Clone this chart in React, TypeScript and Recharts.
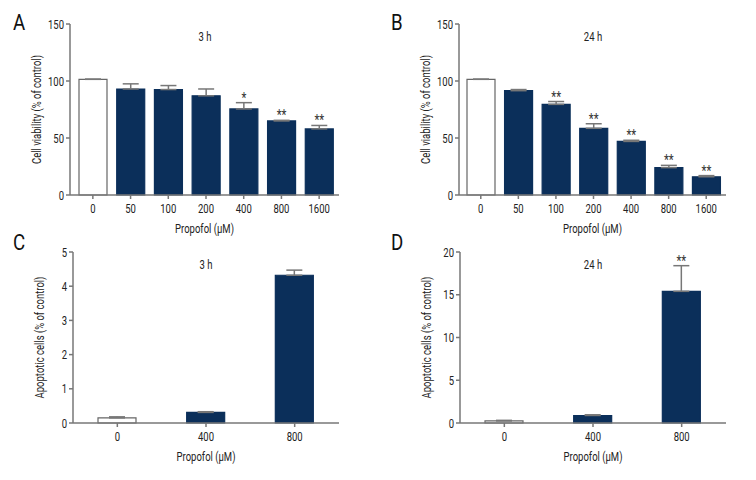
import { BarChart, Bar, XAxis, YAxis, ErrorBar, Cell, LabelList } from "recharts";

// Panel A/B: viability after 3 h / 24 h propofol
const doseViability = ["0", "50", "100", "200", "400", "800", "1600"];
const viability3h = [101.5, 93, 92.5, 87, 75.5, 65, 58];
const viability3hErr = [0, 4.5, 3.5, 6, 5.5, 0.5, 3];
const viability3hSig = ["", "", "", "", "*", "**", "**"];
const viability24h = [101.5, 91.5, 79.5, 58.5, 47, 24, 16];
const viability24hErr = [0, 1, 2.5, 4, 1, 2, 1];
const viability24hSig = ["", "", "**", "**", "**", "**", "**"];
const viabilityTicks = [0, 50, 100, 150];

// Panel C/D: apoptotic cells
const doseApoptosis = ["0", "400", "800"];
const apoptosis3h = [0.15, 0.31, 4.32];
const apoptosis3hErr = [0.03, 0.02, 0.15];
const apoptosis3hSig = ["", "", ""];
const apoptosis24h = [0.25, 0.88, 15.4];
const apoptosis24hErr = [0.06, 0.08, 3.0];
const apoptosis24hSig = ["", "", "**"];
const apoptosis3hTicks = [0, 1, 2, 3, 4, 5];
const apoptosis24hTicks = [0, 5, 10, 15, 20];

const FONT = "Roboto, 'Noto Sans', sans-serif";
const SX = 0.76; // horizontal squeeze to mimic the condensed figure font
const NAVY = "#0b2f5a";
const AXIS = "#777";
const TEXT = "#222";

const XTick = (props: any) => {
  const { x, y, payload } = props;
  return (
    <text transform={`translate(${x},${y}) scale(${SX},1)`} textAnchor="middle" dy="0.75em" fontSize={12.5} fill={TEXT} fontFamily={FONT}>
      {payload.value}
    </text>
  );
};

const YTick = (props: any) => {
  const { x, y, payload } = props;
  return (
    <text transform={`translate(${x},${y}) scale(${SX},1)`} textAnchor="end" dy="0.36em" fontSize={12.5} fill={TEXT} fontFamily={FONT}>
      {payload.value}
    </text>
  );
};

const YLabel = (props: any) => {
  const { viewBox, text } = props;
  const cx = viewBox.x + 6;
  const cy = viewBox.y + viewBox.height / 2;
  return (
    <text transform={`translate(${cx},${cy}) rotate(-90) scale(${SX},1)`} textAnchor="middle" dy="0.36em" fontSize={12.5} fill={TEXT} fontFamily={FONT}>
      {text}
    </text>
  );
};

const XLabel = (props: any) => {
  const { viewBox, text } = props;
  const cx = viewBox.x + viewBox.width / 2;
  const cy = viewBox.y + viewBox.height - 2;
  return (
    <text transform={`translate(${cx},${cy}) scale(${SX},1)`} textAnchor="middle" fontSize={12.5} fill={TEXT} fontFamily={FONT}>
      {text}
    </text>
  );
};

type PanelProps = {
  letter: string;
  title: string;
  left: number;
  top: number;
  margin: { top: number; right: number; left: number; bottom: number };
  doses: string[];
  values: number[];
  errs: number[];
  sigs: string[];
  ticks: number[];
  yLabel: string;
  barSize: number;
  padding: { left: number; right: number };
};

const Panel = ({ letter, title, left, top, margin, doses, values, errs, sigs, ticks, yLabel, barSize, padding }: PanelProps) => {
  const data = doses.map((d, i) => ({ dose: d, value: values[i], err: [0, errs[i]], sig: sigs[i] }));
  const plotLeft = margin.left + 40;
  const plotRight = 378 - margin.right;

  const stars = (props: any) => {
    const vb = props.viewBox ?? props;
    const x = props.x ?? vb.x;
    const y = props.y ?? vb.y;
    const width = props.width ?? vb.width;
    const height = props.height ?? vb.height;
    const { value, index } = props;
    if (!value) return null;
    const pxPerUnit = height / values[index];
    const errTop = y - errs[index] * pxPerUnit;
    return (
      <text
        transform={`translate(${x + width / 2},${errTop}) scale(${SX},1)`}
        textAnchor="middle"
        fontSize={15}
        fill="#333"
        fontFamily={FONT}
      >
        {value}
      </text>
    );
  };

  return (
    <div style={{ position: "absolute", left, top, width: 378, height: 240 }}>
      <div
        style={{
          position: "absolute",
          left: 13,
          top: letter === "A" || letter === "B" ? 11 : -9,
          fontSize: 22,
          lineHeight: "24px",
          fontFamily: FONT,
          color: "#111",
          transform: "scaleX(0.85)",
          transformOrigin: "left top",
        }}
      >
        {letter}
      </div>
      <div
        style={{
          position: "absolute",
          left: (plotLeft + plotRight) / 2 - 30,
          width: 60,
          textAlign: "center",
          top: margin.top + 5,
          fontSize: 12.5,
          lineHeight: "16px",
          fontFamily: FONT,
          color: TEXT,
          transform: `scaleX(${SX})`,
        }}
      >
        {title}
      </div>
      <BarChart width={378} height={240} data={data} margin={margin} style={{ position: "absolute", left: 0, top: 0 }}>
        <XAxis
          dataKey="dose"
          height={40}
          padding={padding}
          stroke={AXIS}
          strokeWidth={1.5}
          tickSize={4}
          tickMargin={5}
          tick={<XTick />}
          label={<XLabel text="Propofol (µM)" />}
        />
        <YAxis
          width={40}
          domain={[ticks[0], ticks[ticks.length - 1]]}
          ticks={ticks}
          stroke={AXIS}
          strokeWidth={1.5}
          tickSize={4}
          tickMargin={2}
          tick={<YTick />}
          label={<YLabel text={yLabel} />}
        />
        <Bar dataKey="value" barSize={barSize} fill={NAVY} isAnimationActive={false}>
          {data.map((_, i) => (
            <Cell key={i} fill={i === 0 ? "#fff" : NAVY} stroke={i === 0 ? "#666" : NAVY} strokeWidth={1.2} />
          ))}
          <ErrorBar dataKey="err" width={8} stroke={AXIS} strokeWidth={1.5} direction="y" />
          <LabelList dataKey="sig" content={stars} />
        </Bar>
      </BarChart>
    </div>
  );
};

export default function App() {
  return (
    <div style={{ position: "absolute", left: 0, top: 0, width: 756, height: 480, background: "#fff" }}>
      <Panel
        letter="A"
        title="3 h"
        left={0}
        top={0}
        margin={{ top: 24, right: 39, left: 30, bottom: 5 }}
        doses={doseViability}
        values={viability3h}
        errs={viability3hErr}
        sigs={viability3hSig}
        ticks={viabilityTicks}
        yLabel="Cell viability (% of control)"
        barSize={28}
        padding={{ left: 4, right: 1 }}
      />
      <Panel
        letter="B"
        title="24 h"
        left={378}
        top={0}
        margin={{ top: 24, right: 30, left: 41, bottom: 5 }}
        doses={doseViability}
        values={viability24h}
        errs={viability24hErr}
        sigs={viability24hSig}
        ticks={viabilityTicks}
        yLabel="Cell viability (% of control)"
        barSize={28}
        padding={{ left: 3, right: 1 }}
      />
      <Panel
        letter="C"
        title="3 h"
        left={0}
        top={240}
        margin={{ top: 12, right: 39, left: 33, bottom: 17 }}
        doses={doseApoptosis}
        values={apoptosis3h}
        errs={apoptosis3hErr}
        sigs={apoptosis3hSig}
        ticks={apoptosis3hTicks}
        yLabel="Apoptotic cells (% of control)"
        barSize={38}
        padding={{ left: 0, right: 0 }}
      />
      <Panel
        letter="D"
        title="24 h"
        left={378}
        top={240}
        margin={{ top: 12, right: 30, left: 42, bottom: 17 }}
        doses={doseApoptosis}
        values={apoptosis24h}
        errs={apoptosis24hErr}
        sigs={apoptosis24hSig}
        ticks={apoptosis24hTicks}
        yLabel="Apoptotic cells (% of control)"
        barSize={38}
        padding={{ left: 0, right: 0 }}
      />
    </div>
  );
}
